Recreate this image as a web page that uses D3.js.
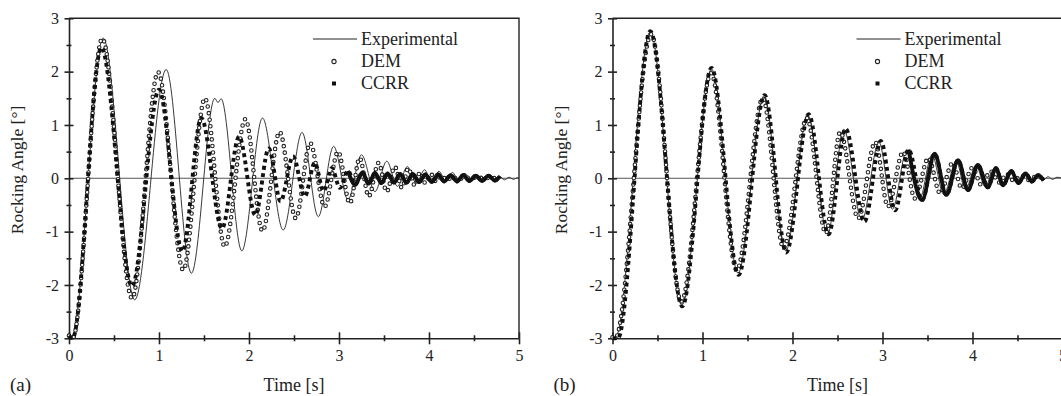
<!DOCTYPE html>
<html>
<head>
<meta charset="utf-8">
<script src="https://cdn.jsdelivr.net/npm/d3@7"></script>
<style>
  body { margin: 0; background: #fff; }
  svg { display: block; font-family: "Liberation Serif", "Times New Roman", serif; }
</style>
</head>
<body>
<svg id="chart" width="1061" height="396"></svg>
<script>
// --- data: [time (s), rocking angle (deg)] at the turning points ---
// panel (a)
const expA = [[0.00,-2.95],[0.03,-3.0],[0.38,2.63],[0.73,-2.28],[1.08,2.04],[1.36,-1.78],[1.62,1.50],[1.655,1.42],[1.69,1.49],
  [1.92,-1.36],[2.15,1.13],[2.38,-0.97],[2.59,0.86],[2.77,-0.72],[2.94,0.60],[3.10,-0.40],[3.25,0.44],[3.40,-0.25],
  [3.53,0.32],[3.65,-0.15],[3.76,0.22],[3.86,-0.10],[3.95,0.16],[4.03,-0.07],[4.11,0.13],[4.19,-0.05],[4.26,0.11],
  [4.33,-0.04],[4.40,0.09],[4.47,-0.03],[4.53,0.07],[4.60,-0.03],[4.66,0.05],[4.72,-0.02],[4.78,0.04],[4.84,-0.03],
  [4.89,0.02],[4.94,-0.02],[4.98,0.01],[5.0,0.0]];
const demA = [[0.00,-2.95],[0.04,-3.0],[0.37,2.62],[0.70,-2.25],[0.99,1.99],[1.27,-1.72],[1.51,1.50],[1.73,-1.28],
  [1.96,1.11],[2.15,-0.99],[2.34,0.87],[2.52,-0.75],[2.68,0.66],[2.84,-0.53],[2.99,0.50],[3.12,-0.47],[3.23,0.38],
  [3.33,-0.34],[3.44,0.29],[3.53,-0.25],[3.62,0.22],[3.70,-0.18],[3.77,0.19],[3.84,-0.13],[3.90,0.11],[3.96,-0.09],
  [4.02,0.08],[4.08,-0.06],[4.14,0.05],[4.20,-0.04],[4.26,0.03],[4.32,-0.02],[4.40,0.01],[4.79,0.0]];
const ccrrA = [[0.00,-2.95],[0.04,-3.0],[0.36,2.45],[0.70,-2.02],[1.00,1.66],[1.26,-1.37],[1.47,1.13],[1.70,-0.94],
  [1.89,0.78],[2.07,-0.69],[2.22,0.56],[2.35,-0.43],[2.49,0.41],[2.62,-0.34],[2.73,0.29],[2.83,-0.24],[2.92,0.19],
  [3.01,-0.18],[3.10,0.14],[3.18,-0.12],[3.26,0.11],[3.33,-0.10],[3.40,0.10],[3.47,-0.09],[3.54,0.09],[3.61,-0.08],
  [3.68,0.08],[3.75,-0.08],[3.82,0.08],[3.89,-0.07],[3.96,0.07],[4.03,-0.07],[4.10,0.07],[4.17,-0.06],[4.24,0.06],
  [4.31,-0.06],[4.38,0.06],[4.45,-0.05],[4.52,0.05],[4.59,-0.05],[4.66,0.05],[4.73,-0.04],[4.79,0.04]];

// panel (b)
const expB = [[0.00,-2.98],[0.03,-3.0],[0.42,2.75],[0.77,-2.38],[1.10,2.05],[1.395,-1.78],[1.685,1.55],[1.925,-1.36],
  [2.17,1.18],[2.39,-1.05],[2.57,0.92],[2.77,-0.79],[2.96,0.68],[3.11,-0.58],[3.27,0.52],[3.41,-0.40],[3.55,0.44],
  [3.68,-0.30],[3.82,0.32],[3.92,-0.21],[4.04,0.24],[4.14,-0.16],[4.24,0.18],[4.33,-0.12],[4.42,0.13],[4.50,-0.09],
  [4.58,0.09],[4.65,-0.06],[4.72,0.06],[4.78,-0.04],[4.84,0.03],[4.89,-0.02],[4.94,0.02],[5.0,0.0]];
const demB = [[0.00,-2.98],[0.03,-3.0],[0.43,2.70],[0.765,-2.31],[1.095,1.97],[1.38,-1.72],[1.67,1.50],[1.90,-1.31],
  [2.16,1.13],[2.37,-1.03],[2.53,0.87],[2.73,-0.75],[2.92,0.68],[3.06,-0.53],[3.23,0.50],[3.36,-0.38],[3.51,0.38],
  [3.64,-0.28],[3.78,0.29],[3.88,-0.19],[4.00,0.20],[4.10,-0.13],[4.20,0.13],[4.30,-0.08],[4.38,0.08],[4.46,-0.05],
  [4.54,0.05],[4.62,-0.03],[4.70,0.03],[4.79,0.0]];
const ccrrB = [[0.00,-3.0],[0.06,-3.0],[0.42,2.76],[0.775,-2.40],[1.10,2.07],[1.40,-1.81],[1.69,1.56],[1.93,-1.39],
  [2.18,1.20],[2.40,-1.05],[2.59,0.93],[2.80,-0.81],[2.98,0.70],[3.14,-0.60],[3.29,0.54],[3.44,-0.41],[3.58,0.46],
  [3.71,-0.31],[3.84,0.34],[3.95,-0.22],[4.06,0.25],[4.17,-0.17],[4.26,0.19],[4.34,-0.13],[4.43,0.14],[4.51,-0.09],
  [4.59,0.09],[4.66,-0.06],[4.73,0.06],[4.79,-0.04]];

// axes / labels
const xMajor = [0, 1, 2, 3, 4, 5];
const xMinor = [0.5, 1.5, 2.5, 3.5, 4.5];
const yMajor = [-3, -2, -1, 0, 1, 2, 3];
const yMinor = [-2.5, -1.5, -0.5, 0.5, 1.5, 2.5];
const seriesNames = ['Experimental', 'DEM', 'CCRR'];
const xTitle = 'Time [s]';
const yTitle = 'Rocking Angle [°]';

// --- plot sizes ---
const ink = '#222';
const serif = '"Liberation Serif", "Times New Roman", serif';
const plotW = 450;
const plotTop = 18.3;
const plotBottom = 338.3;

const svg = d3.select('#chart');

// d3 puts sans-serif/10px on each axis group, so restyle every text and line
function styleAxis(sel) {
  sel.selectAll('line, path').attr('stroke', ink).attr('stroke-width', 1.6);
  sel.selectAll('text')
    .attr('fill', ink)
    .attr('font-family', serif)
    .attr('font-size', 16);
}

function drawPanel(x0, label, exp, dem, ccrr, solidFrom) {
  const x = d3.scaleLinear().domain([0, 5]).range([x0, x0 + plotW]);
  const y = d3.scaleLinear().domain([-3, 3]).range([plotBottom, plotTop]);
  const g = svg.append('g');

  // zero line
  g.append('line')
    .attr('x1', x(0)).attr('x2', x(5))
    .attr('y1', y(0)).attr('y2', y(0))
    .attr('stroke', '#555').attr('stroke-width', 1.1);

  // frame (top + right)
  g.append('path')
    .attr('d', `M${x(0)},${y(3)}H${x(5)}V${y(-3)}`)
    .attr('fill', 'none').attr('stroke', ink).attr('stroke-width', 1.4);

  // --- axes: ticks cross the axis line, so draw an outer and an inner set ---
  const bx = g.append('g').attr('transform', `translate(0,${plotBottom})`);
  bx.append('g').call(d3.axisBottom(x).tickValues(xMajor).tickSize(6).tickSizeOuter(0).tickPadding(5).tickFormat(d => String(d)));
  bx.append('g').call(d3.axisTop(x).tickValues(xMajor).tickSize(6).tickFormat(''))
    .call(a => a.select('.domain').remove());
  bx.append('g').call(d3.axisBottom(x).tickValues(xMinor).tickSize(3).tickFormat(''))
    .call(a => a.select('.domain').remove());
  bx.append('g').call(d3.axisTop(x).tickValues(xMinor).tickSize(3).tickFormat(''))
    .call(a => a.select('.domain').remove());
  styleAxis(bx);

  const ly = g.append('g').attr('transform', `translate(${x0},0)`);
  ly.append('g').call(d3.axisLeft(y).tickValues(yMajor).tickSize(4.5).tickSizeOuter(0).tickPadding(5.5).tickFormat(d => String(d)));
  ly.append('g').call(d3.axisRight(y).tickValues(yMajor).tickSize(4.5).tickFormat(''))
    .call(a => a.select('.domain').remove());
  ly.append('g').call(d3.axisLeft(y).tickValues(yMinor).tickSize(2.5).tickFormat(''))
    .call(a => a.select('.domain').remove());
  ly.append('g').call(d3.axisRight(y).tickValues(yMinor).tickSize(2.5).tickFormat(''))
    .call(a => a.select('.domain').remove());
  styleAxis(ly);

  // --- series ---
  const line = d3.line()
    .x(d => x(d[0]))
    .y(d => y(d[1]))
    .curve(d3.curveMonotoneX);

  // experimental: thin line
  g.append('path').datum(exp)
    .attr('d', line)
    .attr('fill', 'none').attr('stroke', ink).attr('stroke-width', 0.9);

  // DEM: open circles along the curve (round-capped dots, white core)
  g.append('path').datum(dem)
    .attr('d', line)
    .attr('fill', 'none').attr('stroke', ink).attr('stroke-width', 4.6)
    .attr('stroke-linecap', 'round').attr('stroke-dasharray', '0 6.6');
  g.append('path').datum(dem)
    .attr('d', line)
    .attr('fill', 'none').attr('stroke', '#fff').attr('stroke-width', 2.4)
    .attr('stroke-linecap', 'round').attr('stroke-dasharray', '0 6.6');

  // CCRR: filled squares along the curve
  g.append('path').datum(ccrr)
    .attr('d', line)
    .attr('fill', 'none').attr('stroke', '#111').attr('stroke-width', 3.9)
    .attr('stroke-dasharray', '3.9 3.4');
  // late, small oscillations: the markers overlap into a solid band
  g.append('path').datum(ccrr.filter(d => d[0] >= solidFrom))
    .attr('d', line)
    .attr('fill', 'none').attr('stroke', '#111').attr('stroke-width', 3.9);

  // --- legend ---
  const lg = g.append('g').attr('transform', `translate(${x0 + 244},0)`);
  lg.append('line')
    .attr('x1', 0).attr('x2', 44).attr('y1', 39).attr('y2', 39)
    .attr('stroke', ink).attr('stroke-width', 1);
  lg.append('circle')
    .attr('cx', 21).attr('cy', 61.5).attr('r', 2.1)
    .attr('fill', '#fff').attr('stroke', ink).attr('stroke-width', 1.1);
  lg.append('rect')
    .attr('x', 19).attr('y', 81.5).attr('width', 4).attr('height', 4)
    .attr('fill', '#111');
  lg.selectAll('text.legend')
    .data(seriesNames)
    .enter().append('text')
    .attr('class', 'legend')
    .attr('x', 48)
    .attr('y', (d, i) => 45 + i * 22)
    .attr('font-size', 18)
    .attr('fill', ink)
    .text(d => d);

  // --- titles ---
  g.append('text')
    .attr('x', x(2.5)).attr('y', 391)
    .attr('text-anchor', 'middle').attr('font-size', 18).attr('fill', ink)
    .text(xTitle);
  g.append('text')
    .attr('transform', `translate(${x0 - 46},170) rotate(-90)`)
    .attr('text-anchor', 'middle').attr('font-size', 17.5).attr('fill', ink)
    .text(yTitle);
  g.append('text')
    .attr('x', x0 - 59).attr('y', 391)
    .attr('font-size', 19).attr('fill', ink)
    .text(label);
}

drawPanel(69, '(a)', expA, demA, ccrrA, 3.1);
drawPanel(612.5, '(b)', expB, demB, ccrrB, 3.2);
</script>
</body>
</html>
